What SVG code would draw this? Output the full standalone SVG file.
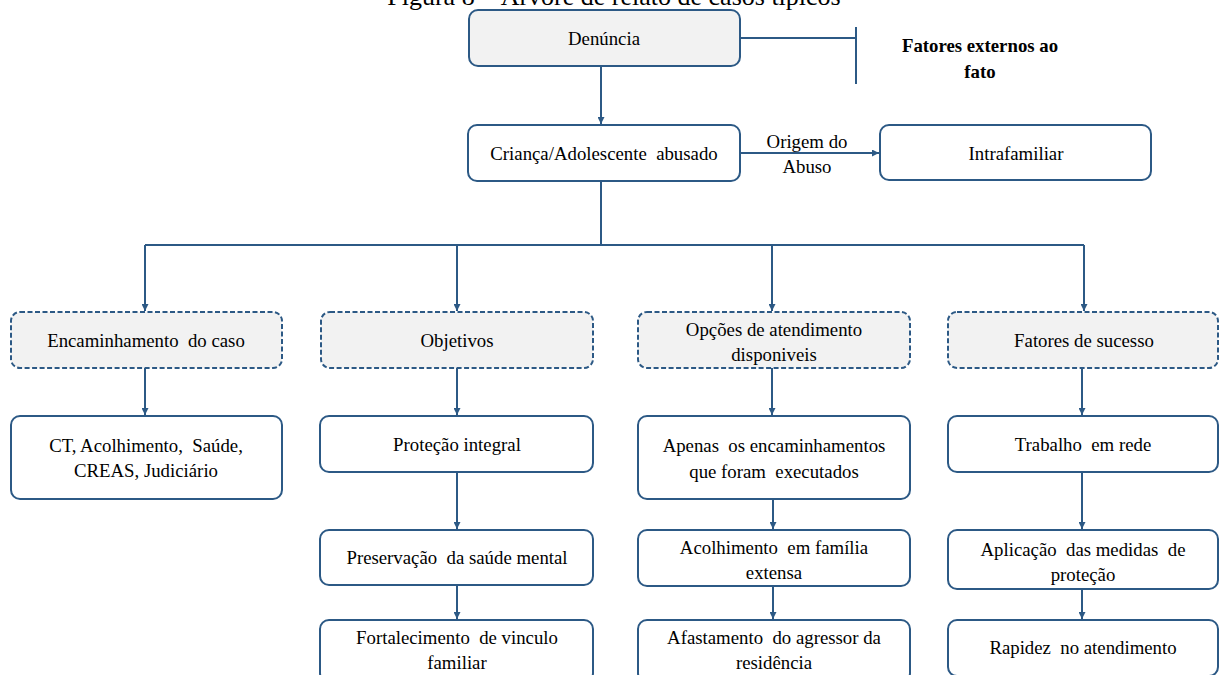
<svg xmlns="http://www.w3.org/2000/svg" width="1219" height="675" viewBox="0 0 1219 675" font-family="'Liberation Serif', serif">
  <defs>
    <marker id="arrow" viewBox="0 0 10 10" refX="10" refY="5" markerWidth="7" markerHeight="7" markerUnits="userSpaceOnUse" orient="auto">
      <path d="M0,0 L10,5 L0,10 z" fill="#2c5985"/>
    </marker>
    <style>
      .box { fill: #ffffff; stroke: #2c5985; stroke-width: 2; }
      .head { fill: #f2f2f2; stroke: #2c5985; stroke-width: 2; }
      .dash { fill: #f2f2f2; stroke: #2c5985; stroke-width: 2; stroke-dasharray: 5 2.5; }
      text { font-family: "Liberation Serif", serif; fill: #000; text-anchor: middle; white-space: pre; }
      .lbl { font-size: 18.8px; }
      .bold { font-weight: bold; }
      .ttl { font-size: 26px; }
      .wire { fill: none; stroke: #2c5985; stroke-width: 2; }
      .arr { fill: none; stroke: #2c5985; stroke-width: 2; marker-end: url(#arrow); }
    </style>
  </defs>

  <!-- caption -->
  <text class="ttl" x="614" y="5">Figura 8 – Árvore de relato de casos típicos</text>

  <!-- connectors -->
  <g id="connectors">
    <path class="wire" d="M740,38 H856 M856,27 V84"/>
    <path class="arr" d="M601,67 V124"/>
    <path class="arr" d="M740,153 H879"/>
    <path class="wire" d="M601,181 V245 M145,245 H1084"/>
    <path class="arr" d="M145,245 V311"/>
    <path class="arr" d="M457,245 V311"/>
    <path class="arr" d="M772,245 V311"/>
    <path class="arr" d="M1084,245 V311"/>
    <path class="arr" d="M145,368 V415"/>
    <path class="arr" d="M457,368 V415"/>
    <path class="arr" d="M772,368 V415"/>
    <path class="arr" d="M1082,368 V415"/>
    <path class="arr" d="M457,472 V529"/>
    <path class="arr" d="M457,585 V619"/>
    <path class="arr" d="M773,499 V529"/>
    <path class="arr" d="M773,586 V619"/>
    <path class="arr" d="M1082,472 V529"/>
    <path class="arr" d="M1082,589 V619"/>
    <text class="lbl" x="807" y="148">Origem do</text>
    <text class="lbl" x="807" y="173">Abuso</text>
  </g>

  <g id="denuncia">
    <rect class="head" x="469" y="10" width="271" height="56" rx="9"/>
    <text class="lbl" x="604" y="45">Denúncia</text>
  </g>

  <g id="fatores-externos">
    <text class="lbl bold" x="980" y="52">Fatores externos ao</text>
    <text class="lbl bold" x="980" y="78">fato</text>
  </g>

  <g id="crianca">
    <rect class="box" x="468" y="125" width="272" height="56" rx="9"/>
    <text class="lbl" x="604" y="160">Criança/Adolescente  abusado</text>
  </g>

  <g id="intrafamiliar">
    <rect class="box" x="880" y="125" width="271" height="55" rx="9"/>
    <text class="lbl" x="1016" y="160">Intrafamiliar</text>
  </g>

  <!-- category row -->
  <g id="encaminhamento">
    <rect class="dash" x="11" y="312" width="271" height="56" rx="9"/>
    <text class="lbl" x="146" y="347">Encaminhamento  do caso</text>
  </g>
  <g id="objetivos">
    <rect class="dash" x="321" y="312" width="272" height="56" rx="9"/>
    <text class="lbl" x="457" y="347">Objetivos</text>
  </g>
  <g id="opcoes">
    <rect class="dash" x="638" y="312" width="272" height="56" rx="9"/>
    <text class="lbl" x="774" y="336">Opções de atendimento</text>
    <text class="lbl" x="774" y="361">disponiveis</text>
  </g>
  <g id="fatores-sucesso">
    <rect class="dash" x="948" y="312" width="270" height="56" rx="9"/>
    <text class="lbl" x="1084" y="347">Fatores de sucesso</text>
  </g>

  <!-- column 1 -->
  <g id="ct">
    <rect class="box" x="11" y="416" width="271" height="83" rx="9"/>
    <text class="lbl" x="146" y="452">CT, Acolhimento,  Saúde,</text>
    <text class="lbl" x="146" y="477">CREAS, Judiciário</text>
  </g>

  <!-- column 2 -->
  <g id="protecao">
    <rect class="box" x="320" y="416" width="273" height="56" rx="9"/>
    <text class="lbl" x="457" y="451">Proteção integral</text>
  </g>
  <g id="preservacao">
    <rect class="box" x="320" y="530" width="273" height="55" rx="9"/>
    <text class="lbl" x="457" y="564">Preservação  da saúde mental</text>
  </g>
  <g id="fortalecimento">
    <rect class="box" x="320" y="620" width="273" height="62" rx="9"/>
    <text class="lbl" x="457" y="644">Fortalecimento  de vinculo</text>
    <text class="lbl" x="457" y="669">familiar</text>
  </g>

  <!-- column 3 -->
  <g id="apenas">
    <rect class="box" x="638" y="416" width="272" height="83" rx="9"/>
    <text class="lbl" x="774" y="452">Apenas  os encaminhamentos</text>
    <text class="lbl" x="774" y="478">que foram  executados</text>
  </g>
  <g id="acolhimento">
    <rect class="box" x="638" y="530" width="272" height="56" rx="9"/>
    <text class="lbl" x="774" y="554">Acolhimento  em família</text>
    <text class="lbl" x="774" y="579">extensa</text>
  </g>
  <g id="afastamento">
    <rect class="box" x="638" y="620" width="272" height="62" rx="9"/>
    <text class="lbl" x="774" y="644">Afastamento  do agressor da</text>
    <text class="lbl" x="774" y="669">residência</text>
  </g>

  <!-- column 4 -->
  <g id="trabalho">
    <rect class="box" x="948" y="416" width="270" height="56" rx="9"/>
    <text class="lbl" x="1083" y="451">Trabalho  em rede</text>
  </g>
  <g id="aplicacao">
    <rect class="box" x="948" y="530" width="270" height="59" rx="9"/>
    <text class="lbl" x="1083" y="556">Aplicação  das medidas  de</text>
    <text class="lbl" x="1083" y="581">proteção</text>
  </g>
  <g id="rapidez">
    <rect class="box" x="948" y="620" width="270" height="56" rx="9"/>
    <text class="lbl" x="1083" y="654">Rapidez  no atendimento</text>
  </g>
</svg>
